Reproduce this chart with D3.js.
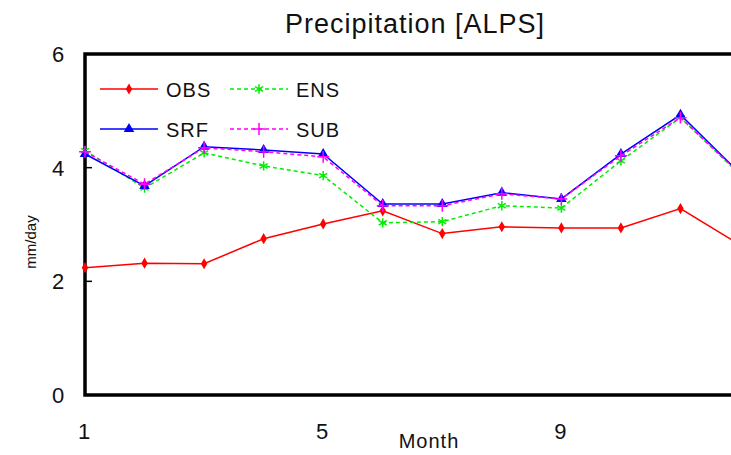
<!DOCTYPE html>
<html>
<head>
<meta charset="utf-8">
<script src="https://cdn.jsdelivr.net/npm/d3@7"></script>
<style>
  body { margin: 0; background: #fff; }
  text { font-family: "Liberation Sans", Arial, sans-serif; fill: #111; }
</style>
</head>
<body>
<div id="main"></div>
<script>
// data
var months = [1, 2, 3, 4, 5, 6, 7, 8, 9, 10, 11, 12];
var obs = [2.24, 2.32, 2.31, 2.75, 3.01, 3.24, 2.84, 2.96, 2.94, 2.94, 3.28, 2.64];
var ens = [4.30, 3.64, 4.26, 4.03, 3.86, 3.03, 3.05, 3.33, 3.29, 4.12, 4.88, 3.88];
var srf = [4.24, 3.68, 4.37, 4.31, 4.24, 3.36, 3.36, 3.56, 3.45, 4.24, 4.93, 3.90];
var sub = [4.28, 3.71, 4.35, 4.28, 4.19, 3.33, 3.33, 3.54, 3.45, 4.21, 4.88, 3.89];
var yTicks = [0, 2, 4, 6];
var xTicks = [1, 5, 9];

var W = 731, H = 455;
var svg = d3.select("#main").append("svg")
    .attr("width", W).attr("height", H);

var x = d3.scaleLinear().domain([1, 12]).range([85, 740]);
var y = d3.scaleLinear().domain([0, 6]).range([395, 54]);

// title
svg.append("text")
    .attr("x", 415).attr("y", 33)
    .attr("text-anchor", "middle")
    .style("font-size", "27px")
    .style("letter-spacing", "1px")
    .text("Precipitation [ALPS]");

// y tick labels
svg.selectAll(".ylab").data(yTicks).enter().append("text")
    .attr("x", 58).attr("y", function(d) { return y(d) + 8; })
    .attr("text-anchor", "middle")
    .style("font-size", "22px")
    .text(function(d) { return d; });

// small inward ticks on y
svg.selectAll(".ytick").data([2, 4]).enter().append("line")
    .attr("x1", x(1)).attr("x2", x(1) + 7)
    .attr("y1", function(d) { return y(d); })
    .attr("y2", function(d) { return y(d); })
    .attr("stroke", "#000").attr("stroke-width", 1.5);

// x tick labels
svg.selectAll(".xlab").data(xTicks).enter().append("text")
    .attr("x", function(d) { return x(d) - 1; }).attr("y", 439)
    .attr("text-anchor", "middle")
    .style("font-size", "22px")
    .text(function(d) { return d; });

svg.append("text")
    .attr("x", 429).attr("y", 448)
    .attr("text-anchor", "middle")
    .style("font-size", "20px")
    .style("letter-spacing", "1px")
    .text("Month");

svg.append("text")
    .attr("transform", "translate(36,242) rotate(-90)")
    .attr("text-anchor", "middle")
    .style("font-size", "15px")
    .text("mm/day");

// frame (right side is cut off by the window)
svg.append("path")
    .attr("d", "M" + (W + 5) + "," + y(6) + "H" + x(1) + "V" + y(0) + "H" + (W + 5))
    .attr("fill", "none").attr("stroke", "#000").attr("stroke-width", 3.5);

var series = [
  { name: "OBS", vals: obs, color: "#ff0000", dash: null, sym: "diamond" },
  { name: "ENS", vals: ens, color: "#00ee00", dash: "4,3", sym: "star" },
  { name: "SRF", vals: srf, color: "#0000ff", dash: null, sym: "triangle" },
  { name: "SUB", vals: sub, color: "#ff00ff", dash: "4,3", sym: "plus" }
];

function marker(g, s, cx, cy) {
  if (s.sym === "diamond") {
    g.append("path").attr("d", d3.symbol(d3.symbolDiamond, 36)())
      .attr("transform", "translate(" + cx + "," + cy + ")")
      .attr("fill", s.color);
  } else if (s.sym === "triangle") {
    g.append("path").attr("d", d3.symbol(d3.symbolTriangle, 48)())
      .attr("transform", "translate(" + cx + "," + cy + ")")
      .attr("fill", s.color);
  } else if (s.sym === "star") {
    g.append("path").attr("d", d3.symbol(d3.symbolAsterisk, 60)())
      .attr("transform", "translate(" + cx + "," + cy + ")")
      .attr("fill", "none").attr("stroke", s.color).attr("stroke-width", 1.5);
  } else {
    g.append("path").attr("d", d3.symbol(d3.symbolTimes, 48)())
      .attr("transform", "translate(" + cx + "," + cy + ") rotate(45)")
      .attr("fill", "none").attr("stroke", s.color).attr("stroke-width", 1.5);
  }
}

var line = d3.line()
    .x(function(d, i) { return x(months[i]); })
    .y(function(d) { return y(d); });

var plot = svg.append("g");
series.forEach(function(s) {
  plot.append("path").datum(s.vals)
    .attr("d", line)
    .attr("fill", "none")
    .attr("stroke", s.color)
    .attr("stroke-width", 1.5)
    .attr("stroke-dasharray", s.dash);
  s.vals.forEach(function(v, i) { marker(plot, s, x(months[i]), y(v)); });
});

// legend
var legPos = [[100, 89], [230, 89], [100, 129], [230, 129]];
series.forEach(function(s, j) {
  var p = legPos[j];
  var lg = svg.append("g");
  lg.append("line")
    .attr("x1", p[0]).attr("x2", p[0] + 58)
    .attr("y1", p[1]).attr("y2", p[1])
    .attr("stroke", s.color).attr("stroke-width", 1.5)
    .attr("stroke-dasharray", s.dash);
  marker(lg, s, p[0] + 29, p[1]);
  lg.append("text")
    .attr("x", p[0] + 66).attr("y", p[1] + 8)
    .style("font-size", "20px")
    .style("letter-spacing", "1px")
    .text(s.name);
});
</script>
</body>
</html>
